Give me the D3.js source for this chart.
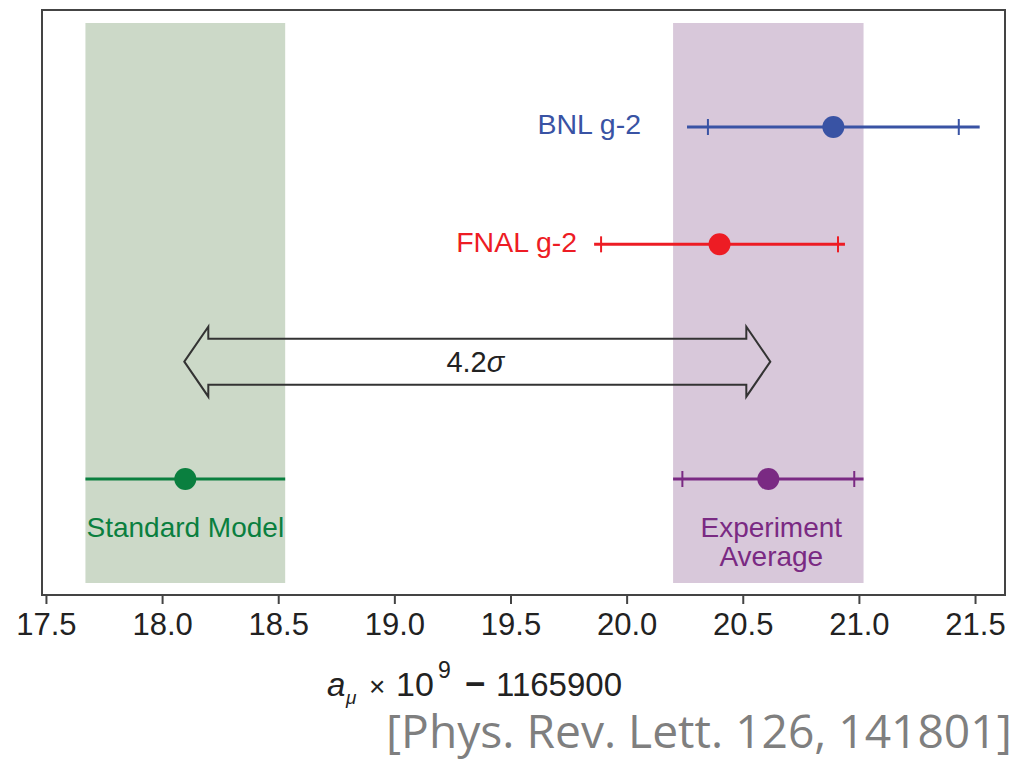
<!DOCTYPE html>
<html>
<head>
<meta charset="utf-8">
<script src="https://cdn.jsdelivr.net/npm/d3@7"></script>
<style>
  body { margin: 0; background: #fff; }
  svg text { font-family: "Liberation Sans", Arial, sans-serif; }
</style>
</head>
<body>
<svg id="chart" width="1026" height="761"></svg>
<script>
// measurements, in units of a_mu x 10^9 - 1165900
const rows = ['BNL g-2', 'FNAL g-2', 'Experiment Average', 'Standard Model'];
const rowIndex = [0, 1, 3, 3];
const centralValues = [20.89, 20.40, 20.61, 18.10];
const totalErrors = [0.63, 0.54, 0.41, 0.43];
const statErrors = [0.54, 0.51, 0.37, null];
const colors = ['#3953a4', '#ed1c24', '#7a2a83', '#0a7f3f'];
const bandColors = [null, null, '#d8c8da', '#ccd9c8'];
const xTicks = [17.5, 18.0, 18.5, 19.0, 19.5, 20.0, 20.5, 21.0, 21.5];
const xDomain = [17.483, 21.629];
const tension = '4.2σ';
const citation = '[Phys. Rev. Lett. 126, 141801]';

const svg = d3.select('#chart');
const plot = {left: 42, right: 1005, top: 10, bottom: 595};

const x = d3.scaleLinear().domain(xDomain).range([plot.left, plot.right]);
// row 2 holds the tension arrow
const y = d3.scaleLinear().domain([0, 3]).range([127, 479]);

function drawBands(){
  rows.forEach(function(r, i){
    if(!bandColors[i]) return;
    svg.append('rect')
      .attr('x', x(centralValues[i] - totalErrors[i]))
      .attr('y', plot.top + 13)
      .attr('width', x(centralValues[i] + totalErrors[i]) - x(centralValues[i] - totalErrors[i]))
      .attr('height', plot.bottom - plot.top - 25)
      .attr('fill', bandColors[i]);
  });
}

function drawAxis(){
  let axis = d3.axisBottom(x).tickValues(xTicks).tickFormat(d3.format('.1f')).tickSize(9).tickSizeOuter(0);
  let g = svg.append('g').attr('transform', 'translate(0,' + plot.bottom + ')').call(axis);
  g.select('.domain').remove();
  g.selectAll('.tick line').attr('stroke', '#444').attr('stroke-width', 2);
  g.selectAll('.tick text')
    .attr('y', 40).attr('dy', 0)
    .attr('fill', '#222')
    .style('font-size', '31px')
    .style('font-family', '"Liberation Sans", Arial, sans-serif');

  svg.append('rect')
    .attr('x', plot.left).attr('y', plot.top)
    .attr('width', plot.right - plot.left).attr('height', plot.bottom - plot.top)
    .attr('fill', 'none').attr('stroke', '#444').attr('stroke-width', 2);

  // axis title: a_mu x 10^9 - 1165900
  let label = svg.append('text').attr('y', 696).attr('fill', '#222');
  label.append('tspan').text('a').attr('x', 327).style('font-style', 'italic').style('font-size', '33px');
  label.append('tspan').text('μ').attr('x', 346).attr('dy', 8).style('font-style', 'italic').style('font-size', '19px');
  label.append('tspan').text('×').attr('x', 369).attr('dy', -8).style('font-size', '28px');
  label.append('tspan').text('10').attr('x', 396).style('font-size', '34px');
  label.append('tspan').text('9').attr('x', 438).attr('dy', -18).style('font-size', '23px');
  label.append('tspan').text('−').attr('x', 465).attr('dy', 18).style('font-size', '35px').style('font-weight', 'bold');
  label.append('tspan').text('1165900').attr('x', 496).style('font-size', '33px');
}

function drawErrorBars(){
  rows.forEach(function(r, i){
    let cy = y(rowIndex[i]);
    let v = centralValues[i];
    let g = svg.append('g').attr('stroke', colors[i]).attr('fill', colors[i]);
    g.append('line')
      .attr('x1', x(v - totalErrors[i])).attr('x2', x(v + totalErrors[i]))
      .attr('y1', cy).attr('y2', cy)
      .attr('stroke-width', 3);
    if(statErrors[i] != null){
      [v - statErrors[i], v + statErrors[i]].forEach(function(t){
        g.append('line')
          .attr('x1', x(t)).attr('x2', x(t))
          .attr('y1', cy - 8).attr('y2', cy + 8)
          .attr('stroke-width', 2);
      });
    }
    g.append('circle').attr('cx', x(v)).attr('cy', cy).attr('r', 11).attr('stroke', 'none');
  });
}

function drawLabels(){
  // BNL and FNAL sit left of their bars, the two references sit under theirs
  svg.append('text').text(rows[0])
    .attr('x', x(centralValues[0] - totalErrors[0]) - 46).attr('y', y(0) + 7)
    .attr('text-anchor', 'end').attr('fill', colors[0]).style('font-size', '28.5px');
  svg.append('text').text(rows[1])
    .attr('x', x(centralValues[1] - totalErrors[1]) - 17).attr('y', y(1) + 8)
    .attr('text-anchor', 'end').attr('fill', colors[1]).style('font-size', '28.5px');
  let exp = svg.append('text')
    .attr('x', x(centralValues[2]) + 3).attr('y', y(3) + 58)
    .attr('text-anchor', 'middle').attr('fill', colors[2]).style('font-size', '28px');
  exp.append('tspan').text('Experiment');
  exp.append('tspan').text('Average').attr('x', x(centralValues[2]) + 3).attr('dy', 29);
  svg.append('text').text(rows[3])
    .attr('x', x(centralValues[3])).attr('y', y(3) + 58)
    .attr('text-anchor', 'middle').attr('fill', colors[3]).style('font-size', '28px');
}

function drawArrow(){
  let x1 = x(centralValues[3]) - 1, x2 = x(centralValues[2]) + 2, cy = y(2);
  let hl = 24, hw = 35, sw = 23;
  let pts = [
    [x1, cy], [x1 + hl, cy - hw], [x1 + hl, cy - sw], [x2 - hl, cy - sw], [x2 - hl, cy - hw],
    [x2, cy], [x2 - hl, cy + hw], [x2 - hl, cy + sw], [x1 + hl, cy + sw], [x1 + hl, cy + hw]
  ];
  svg.append('path')
    .attr('d', d3.line()(pts) + 'Z')
    .attr('fill', 'none').attr('stroke', '#333').attr('stroke-width', 2)
    .attr('stroke-linejoin', 'miter');
  let t = svg.append('text').attr('x', (x1 + x2) / 2 - 2).attr('y', cy + 10)
    .attr('text-anchor', 'middle').attr('fill', '#222').style('font-size', '29px');
  t.append('tspan').text(tension.slice(0, 3));
  t.append('tspan').text(tension.slice(3)).style('font-style', 'italic');
}

function drawCitation(){
  let c = svg.append('text').text(citation)
    .attr('x', 386).attr('y', 748)
    .attr('fill', '#7f7f7f')
    .style('font-family', '"Open Sans", "Noto Sans", sans-serif')
    .style('font-size', '40px');
  let w = c.node().getComputedTextLength();
  c.style('font-size', (40 * 626 / w) + 'px');
}

function init(){
  drawBands();
  drawAxis();
  drawErrorBars();
  drawLabels();
  drawArrow();
  drawCitation();
}

init();
</script>
</body>
</html>
